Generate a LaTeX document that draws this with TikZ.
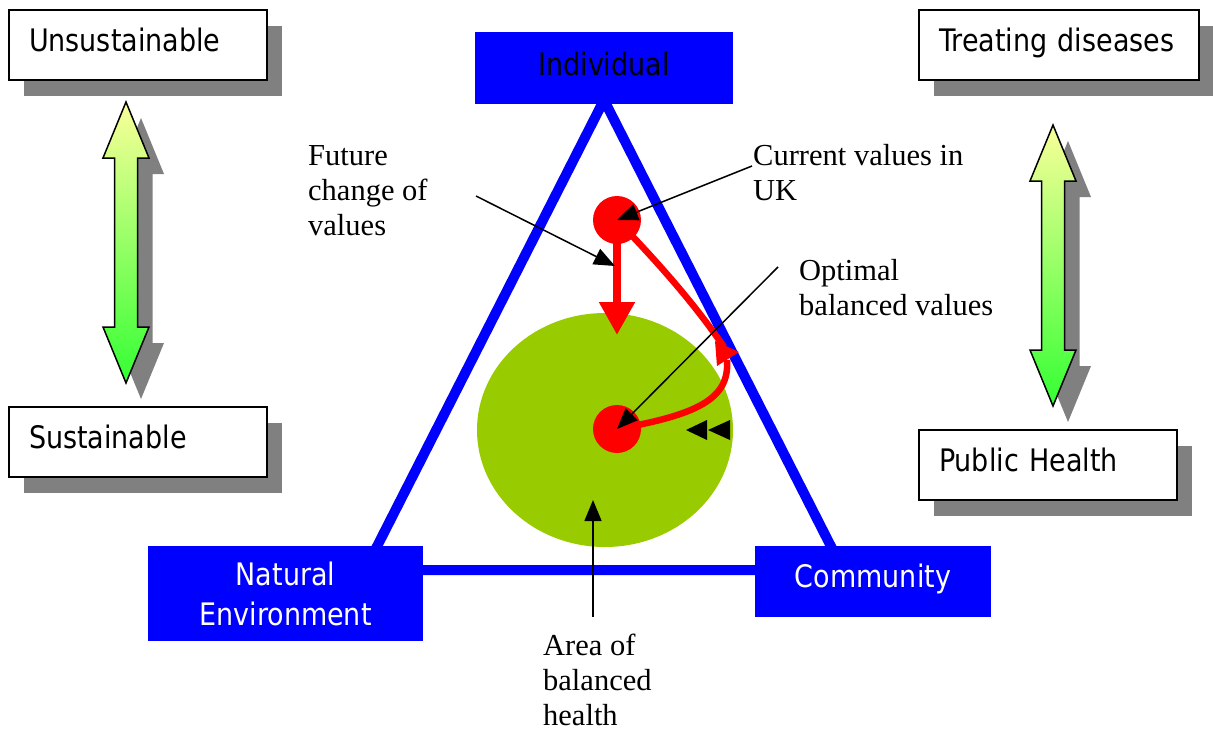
\documentclass[tikz,border=0pt]{standalone}
\usepackage{fontspec}
\setmainfont{Liberation Serif}
\newfontfamily\tah[FakeStretch=0.87]{DejaVu Sans}
\usetikzlibrary{arrows.meta,shadows}
\definecolor{vblue}{HTML}{0000FF}
\definecolor{lime}{HTML}{99CC00}
\definecolor{shad}{HTML}{808080}
\definecolor{ayellow}{HTML}{FAFF99}
\definecolor{agreen}{HTML}{33FF33}
\begin{document}
\begin{tikzpicture}[x=1pt,y=-1pt,
  tahfont/.style={font=\tah\fontsize{31}{40}\selectfont},
  seriflbl/.style={font=\fontsize{30.5}{35}\selectfont, inner sep=0pt, anchor=base west},
  wbox/.style={tahfont, draw=black, line width=1.5pt, fill=white, inner xsep=20pt, inner ysep=0pt,
    text width=#1, align=left, minimum height=70pt, text height=25pt, text depth=12pt,
    drop shadow={shadow xshift=15pt, shadow yshift=-16pt, fill=shad, opacity=1}},
  bbox/.style={tahfont, fill=vblue, draw=none, inner sep=0pt},
  callout/.style={draw=black, line width=1.5pt, -{Triangle[length=21pt,width=17pt]}},
  redline/.style={draw=red, line width=6.5pt},
  dblarr/.pic={
    \fill[shad] (15,16) -- (38,72) -- (26.5,72) -- (26.5,241) -- (38,241) -- (15,297)
       -- (-8,241) -- (3.5,241) -- (3.5,72) -- (-8,72) -- cycle;
    \shade[top color=ayellow, bottom color=agreen, draw=black, line width=1.5pt, line join=miter]
       (0,0) -- (23,56) -- (11.5,56) -- (11.5,225) -- (23,225) -- (0,281)
       -- (-23,225) -- (-11.5,225) -- (-11.5,56) -- (-23,56) -- cycle;
  }]
\useasboundingbox (0,0) rectangle (1213,731);

% triangle
\draw[vblue, line width=10pt, line join=miter] (604,100) -- (365,570) -- (843,570) -- cycle;

% area of balanced health
\fill[lime] (605,430) ellipse [x radius=128, y radius=117];

% blue corner boxes
\node[bbox, minimum width=258pt, minimum height=72pt, text height=25pt, text depth=11pt, text=black]
  (ind) at (604,68) {Individual};
\node[bbox, minimum width=275pt, minimum height=95pt, align=center, text=white]
  (nat) at (285.5,593.5) {Natural\\Environment};
\node[bbox, minimum width=236pt, minimum height=71pt, text height=25pt, text depth=14pt, text=white]
  (com) at (873,581.5) {Community};

% white boxes with shadows
\node[wbox=218pt] (uns) at (138,45) {Unsustainable};
\node[wbox=218pt] (sus) at (138,442) {Sustainable};
\node[wbox=240pt] (tre) at (1059,45) {Treating diseases};
\node[wbox=218pt] (pub) at (1048,465) {Public Health};

% double arrows
\pic at (126,102) {dblarr};
\pic at (1053,125) {dblarr};

% red values
\node[circle, fill=red, minimum size=48pt, inner sep=0pt] (cur) at (617,220) {};
\node[circle, fill=red, minimum size=48pt, inner sep=0pt] (opt) at (617,429) {};
\coordinate (rtip) at (617,335);
\draw[red, line width=8pt, -{Triangle[length=33pt,width=34pt]}] (cur.center) -- (rtip);
\coordinate (bend) at (724,347);
\coordinate (bend2) at (727,360);
\draw[redline] (cur.center) .. controls (670,275) and (700,312) .. (bend);
\draw[redline] (opt.center) .. controls (695,415) and (730,400) .. (bend2);
\fill[red] (715,341) -- (739,352) -- (717,366) -- cycle;

% small black arrowheads
\fill[black] (686,430) -- (707,420) -- (707,440) -- cycle;
\fill[black] (708,430) -- (730,420) -- (730,440) -- cycle;

% callouts
\coordinate (fs) at (476,196);
\coordinate (ft) at (615,266);
\coordinate (cs) at (752,166);
\coordinate (os) at (778,267);
\coordinate (as) at (593,617);
\coordinate (at) at (593,500);
\draw[callout] (fs) -- (ft);
\draw[callout] (cs) -- (cur.center);
\draw[callout] (os) -- (opt.center);
\draw[callout] (as) -- (at);

% labels
\node[seriflbl] (lfut) at (308,165) {\begin{tabular}[t]{@{}l@{}}Future\\change of\\values\end{tabular}};
\node[seriflbl] (lcur) at (753,165) {\begin{tabular}[t]{@{}l@{}}Current values in\\UK\end{tabular}};
\node[seriflbl] (lopt) at (799,280) {\begin{tabular}[t]{@{}l@{}}Optimal\\balanced values\end{tabular}};
\node[seriflbl] (lare) at (543,655) {\begin{tabular}[t]{@{}l@{}}Area of\\balanced\\health\end{tabular}};
\end{tikzpicture}
\end{document}
